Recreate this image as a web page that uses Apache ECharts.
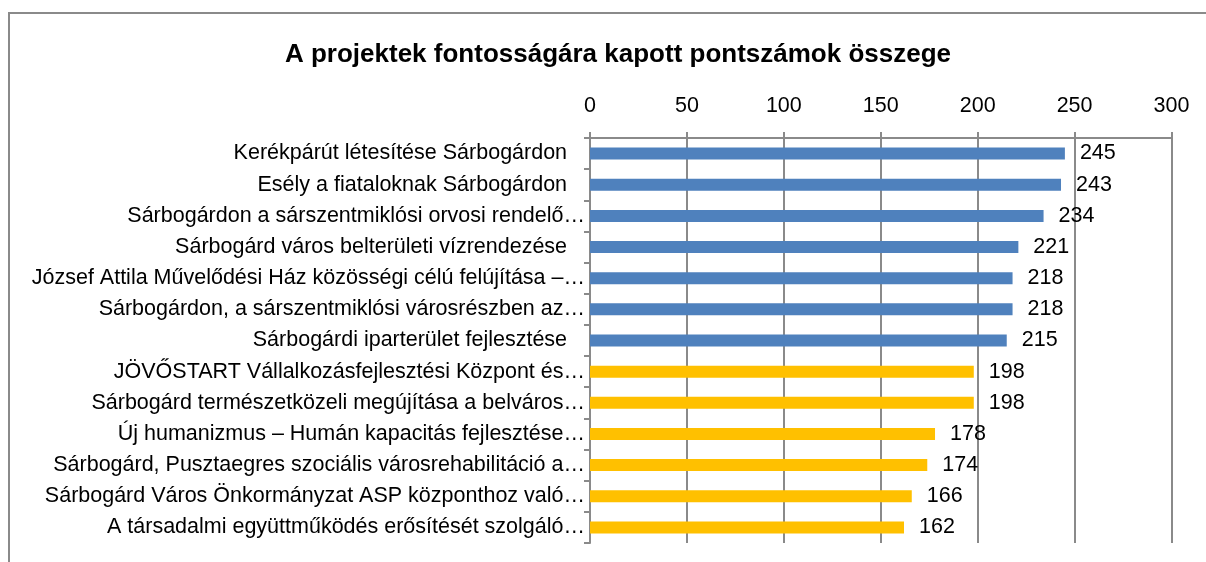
<!DOCTYPE html>
<html>
<head>
<meta charset="utf-8">
<style>
  html, body { margin: 0; padding: 0; background: #ffffff; }
  #chart { width: 1206px; height: 562px; }
</style>
<script src="https://cdn.jsdelivr.net/npm/echarts@6/dist/echarts.min.js"></script>
</head>
<body>
<div id="chart"></div>
<script>
// Projects, top to bottom, with the total score each received
const categories = [
  'Kerékpárút létesítése Sárbogárdon   ',
  'Esély a fiataloknak Sárbogárdon   ',
  'Sárbogárdon a sárszentmiklósi orvosi rendelő…',
  'Sárbogárd város belterületi vízrendezése   ',
  'József Attila Művelődési Ház közösségi célú felújítása –…',
  'Sárbogárdon, a sárszentmiklósi városrészben az…',
  'Sárbogárdi iparterület fejlesztése   ',
  'JÖVŐSTART Vállalkozásfejlesztési Központ és…',
  'Sárbogárd természetközeli megújítása a belváros…',
  'Új humanizmus – Humán kapacitás fejlesztése…',
  'Sárbogárd, Pusztaegres szociális városrehabilitáció a…',
  'Sárbogárd Város Önkormányzat ASP központhoz való…',
  'A társadalmi együttműködés erősítését szolgáló…'
];
const scores = [245, 243, 234, 221, 218, 218, 215, 198, 198, 178, 174, 166, 162];
// Project group: 1 = first group (blue), 2 = second group (yellow)
const groups = [1, 1, 1, 1, 1, 1, 1, 2, 2, 2, 2, 2, 2];
const axisTicks = [0, 50, 100, 150, 200, 250, 300];

const groupColors = { 1: '#4F81BD', 2: '#FFC000' };
const FONT = '"Liberation Sans", Arial, sans-serif';
const GRID_GRAY = '#8a8a8a';

const chart = echarts.init(document.getElementById('chart'), null, { renderer: 'canvas' });

chart.setOption({
  backgroundColor: '#ffffff',
  animation: false,
  title: {
    text: 'A projektek fontosságára kapott pontszámok összege',
    left: 613,
    top: 37,
    textAlign: 'center',
    textStyle: {
      fontFamily: FONT,
      fontWeight: 'bold',
      fontSize: 26,
      color: '#000000'
    }
  },
  graphic: [{
    type: 'rect',
    shape: { x: 9, y: 13, width: 1400, height: 800 },
    style: { fill: 'none', stroke: GRID_GRAY, lineWidth: 2 },
    silent: true
  }],
  grid: {
    left: 590,
    right: 34.5,
    top: 138,
    bottom: 19,
    outerBoundsMode: 'none',
    containLabel: false
  },
  xAxis: {
    type: 'value',
    position: 'top',
    min: axisTicks[0],
    max: axisTicks[axisTicks.length - 1],
    interval: axisTicks[1] - axisTicks[0],
    axisLine: { show: true, lineStyle: { color: GRID_GRAY, width: 2 } },
    axisTick: { show: true, length: 6, lineStyle: { color: GRID_GRAY, width: 2 } },
    splitLine: { show: true, lineStyle: { color: GRID_GRAY, width: 2 } },
    axisLabel: {
      margin: 21,
      fontFamily: FONT,
      fontSize: 21.5,
      color: '#000000'
    }
  },
  yAxis: {
    type: 'category',
    inverse: true,
    data: categories,
    axisLine: { show: true, lineStyle: { color: GRID_GRAY, width: 2 } },
    axisTick: { show: true, length: 6, lineStyle: { color: GRID_GRAY, width: 2 } },
    axisLabel: {
      interval: 0,
      margin: 5,
      fontFamily: FONT,
      fontSize: 21.5,
      color: '#000000'
    }
  },
  series: [{
    type: 'bar',
    barWidth: 12,
    data: scores.map((v, i) => ({
      value: v,
      itemStyle: { color: groupColors[groups[i]] }
    })),
    label: {
      show: true,
      position: 'right',
      distance: 15,
      fontFamily: FONT,
      fontSize: 21.5,
      color: '#000000'
    }
  }]
});
</script>
</body>
</html>
